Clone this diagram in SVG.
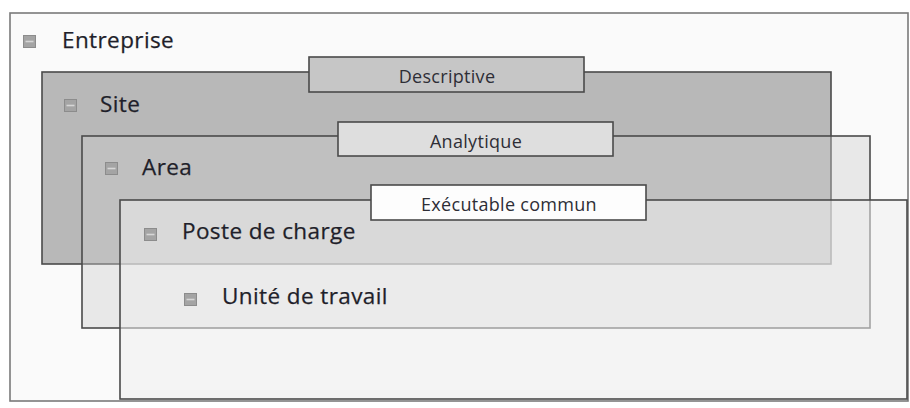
<svg xmlns="http://www.w3.org/2000/svg" width="910" height="408" viewBox="0 0 910 408">
<style>
.lbl{font-family:"Open Sans","Liberation Sans",sans-serif;font-size:22.5px;fill:#1f1f2a;letter-spacing:0.4px;stroke:#1f1f2a;stroke-width:0.25}
.tab{font-family:"Open Sans","Liberation Sans",sans-serif;font-size:18px;fill:#2e2e36;text-anchor:middle;letter-spacing:0.3px}
.box{stroke:#4a4a4a;stroke-width:1.6}
.tabr{stroke:#4a4a4a;stroke-width:1.6}
.ico{fill:#a4a4a4;stroke:#8c8c8c;stroke-width:1}
.bar{stroke:#d6d6d6;stroke-width:1.6}
</style>
<defs>
<g id="icon">
<rect class="ico" x="0.5" y="0.5" width="12" height="12"/>
<line class="bar" x1="2.5" y1="6.5" x2="10.5" y2="6.5"/>
</g>
</defs>
<rect width="910" height="408" fill="#ffffff"/>
<g id="frame">
<rect x="10" y="13" width="898" height="388" fill="#fafafa" stroke="#7a7a7a" stroke-width="1.6"/>
</g>
<g id="descriptive">
<rect class="box" x="42" y="72" width="789" height="192" fill="#b8b8b8"/>
<rect class="tabr" x="309" y="57" width="275" height="35" fill="#c6c6c6"/>
<text class="tab" x="447" y="82.5">Descriptive</text>
</g>
<g id="analytique">
<rect class="box" x="82" y="136" width="788" height="192" fill="#cccccc" fill-opacity="0.4"/>
<rect class="tabr" x="338" y="122" width="275" height="34" fill="#dedede"/>
<text class="tab" x="476" y="147.5">Analytique</text>
</g>
<g id="executable">
<rect class="box" x="120" y="200" width="787" height="199" fill="#eeeeee" fill-opacity="0.54"/>
<rect class="tabr" x="371" y="185" width="275" height="35" fill="#fdfdfd"/>
<text class="tab" x="509" y="211">Exécutable commun</text>
</g>
<g id="connectors"></g>
<g id="entreprise">
<use href="#icon" x="23" y="35"/>
<text class="lbl" x="62" y="48">Entreprise</text>
</g>
<g id="site">
<use href="#icon" x="64" y="99"/>
<text class="lbl" x="100" y="112">Site</text>
</g>
<g id="area">
<use href="#icon" x="105" y="162"/>
<text class="lbl" x="142" y="175">Area</text>
</g>
<g id="poste">
<use href="#icon" x="144" y="228"/>
<text class="lbl" x="182" y="239">Poste de charge</text>
</g>
<g id="unite">
<use href="#icon" x="184" y="293"/>
<text class="lbl" x="222" y="304">Unité de travail</text>
</g>
</svg>
